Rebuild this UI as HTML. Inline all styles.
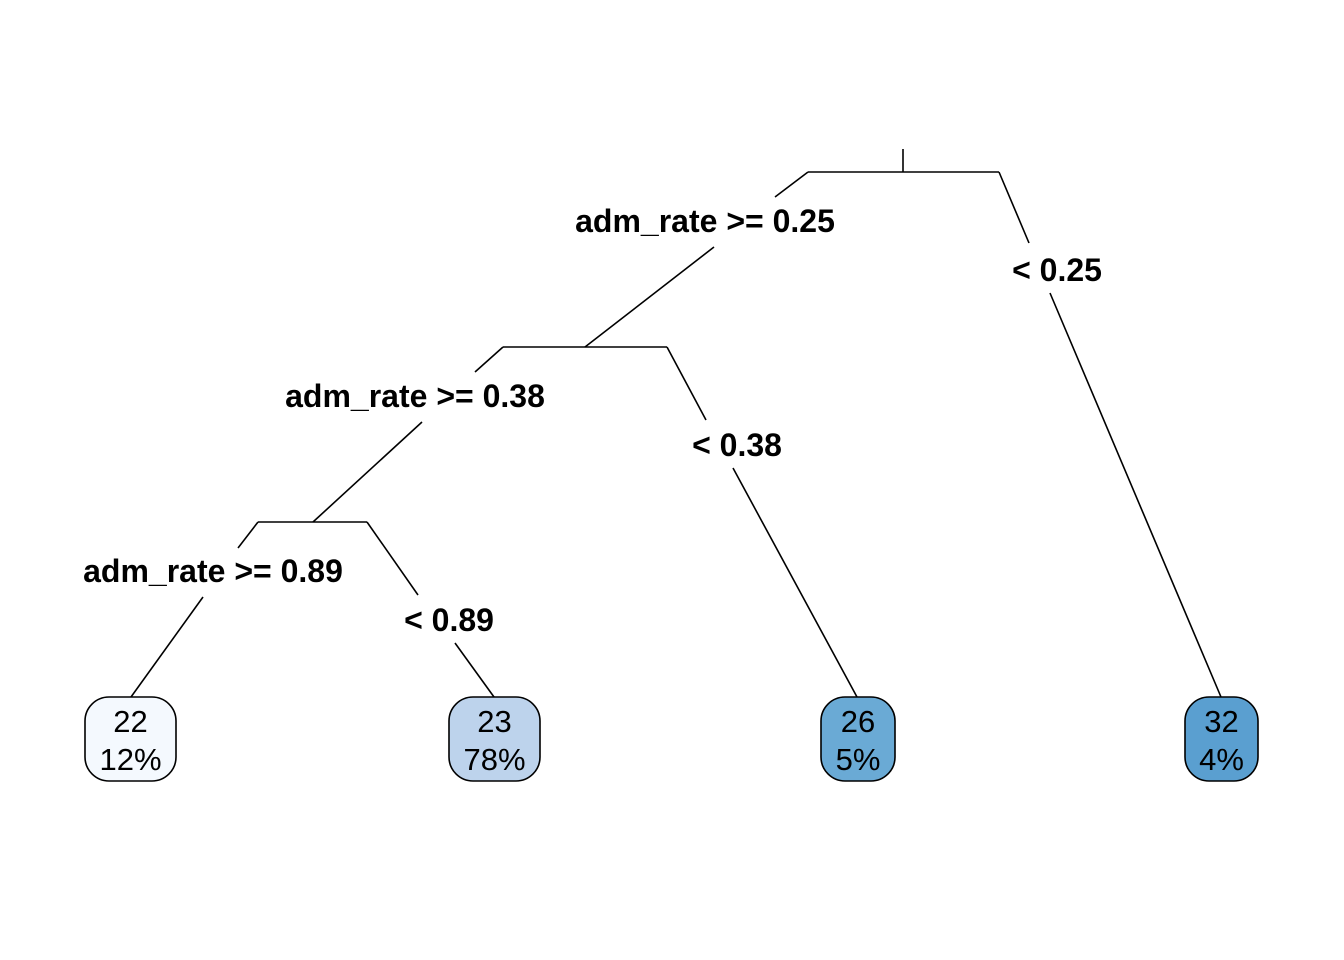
<!DOCTYPE html>
<html>
<head>
<meta charset="utf-8">
<style>
  html, body { margin: 0; padding: 0; background: #ffffff; }
  svg { display: block; }
  text { font-family: "Liberation Sans", Arial, sans-serif; }
</style>
</head>
<body>
<svg id="tree" width="1344" height="960" viewBox="0 0 1344 960" xmlns="http://www.w3.org/2000/svg">
  <rect x="0" y="0" width="1344" height="960" fill="#ffffff"/>
</svg>
<script>
// Leaf data
const leafValues = ["22", "23", "26", "32"];
const leafPercents = ["12%", "78%", "5%", "4%"];
const leafColors = ["#f4f9fe", "#bdd3ec", "#6aaad5", "#5a9fd0"];
// Split labels
const splitLeftLabels = ["adm_rate >= 0.25", "adm_rate >= 0.38", "adm_rate >= 0.89"];
const splitRightLabels = ["< 0.25", "< 0.38", "< 0.89"];

const NS = "http://www.w3.org/2000/svg";
const svg = document.getElementById("tree");

// Layout (positions only)
const leafBoxes = [[85, 176], [449, 540], [821, 895], [1185, 1258]];
const leafTop = 697, leafBottom = 781;
const splits = [
  { hx1: 808, hx2: 999, hy: 172, stemX: 903, stemY: 149,
    left: { a: [808,172,775,197], lx: 705, ly: 232, b: [714,247,585,347] },
    right: { a: [999,172,1029,243], lx: 1057, ly: 281, b: [1050,293,1221,697] } },
  { hx1: 503, hx2: 667, hy: 347,
    left: { a: [503,347,475,372], lx: 415, ly: 407, b: [422,422,313,522] },
    right: { a: [667,347,706,420], lx: 737, ly: 456, b: [733,468,857,697] } },
  { hx1: 258, hx2: 367, hy: 522,
    left: { a: [258,522,238,548], lx: 213, ly: 582, b: [203,597,131,697] },
    right: { a: [367,522,418,595], lx: 449, ly: 631, b: [455,643,494,697] } }
];

function line(x1, y1, x2, y2, name) {
  const l = document.createElementNS(NS, "line");
  l.setAttribute("x1", x1); l.setAttribute("y1", y1);
  l.setAttribute("x2", x2); l.setAttribute("y2", y2);
  l.setAttribute("stroke", "#000"); l.setAttribute("stroke-width", "1.6");
  
  
  svg.appendChild(l);
}
function text(x, y, str, bold, size, name) {
  const t = document.createElementNS(NS, "text");
  t.setAttribute("x", x); t.setAttribute("y", y);
  t.setAttribute("text-anchor", "middle");
  t.setAttribute("font-size", size);
  if (bold) t.setAttribute("font-weight", "bold");
  t.textContent = str;
  
  
  svg.appendChild(t);
}

splits.forEach((s, i) => {
  if (s.stemX) line(s.stemX, s.stemY, s.stemX, s.hy, "root-stem");
  line(s.hx1, s.hy, s.hx2, s.hy, "split-bar-" + (i + 1));
  line(...s.left.a, "left-branch-top-" + (i + 1));
  line(...s.left.b, "left-branch-bottom-" + (i + 1));
  line(...s.right.a, "right-branch-top-" + (i + 1));
  line(...s.right.b, "right-branch-bottom-" + (i + 1));
  text(s.left.lx, s.left.ly, splitLeftLabels[i], true, 32, "split-label-left-" + (i + 1));
  text(s.right.lx, s.right.ly, splitRightLabels[i], true, 32, "split-label-right-" + (i + 1));
});

leafValues.forEach((v, i) => {
  const [x1, x2] = leafBoxes[i];
  const r = document.createElementNS(NS, "rect");
  r.setAttribute("x", x1); r.setAttribute("y", leafTop);
  r.setAttribute("width", x2 - x1); r.setAttribute("height", leafBottom - leafTop);
  r.setAttribute("rx", 24); r.setAttribute("ry", 24);
  r.setAttribute("fill", leafColors[i]);
  r.setAttribute("stroke", "#000"); r.setAttribute("stroke-width", "1.6");
  
  
  svg.appendChild(r);
  const cx = (x1 + x2) / 2;
  text(cx, 732, v, false, 31, "leaf-value-" + (i + 1));
  text(cx, 770, leafPercents[i], false, 31, "leaf-percent-" + (i + 1));
});
</script>
</body>
</html>
